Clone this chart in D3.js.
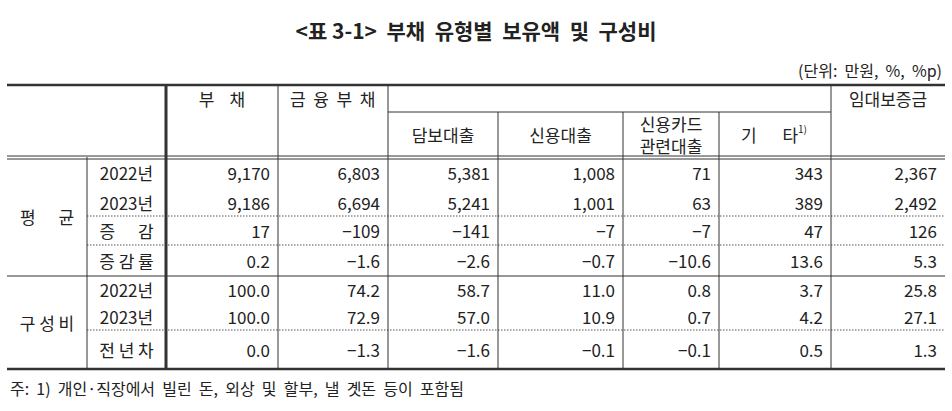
<!DOCTYPE html>
<html><head><meta charset="utf-8">
<script src="https://cdn.jsdelivr.net/npm/d3@7"></script>
<style>body{margin:0;background:#fff}text{font-family:"Noto Sans CJK KR","Noto Sans",sans-serif;fill:#222;white-space:pre}</style>
</head><body><div id="container"></div>
<script>
/** DATA */
const columns = ["부채", "금융부채", "담보대출", "신용대출", "신용카드관련대출", "기타", "임대보증금"];
const groups = ["평      균", "구 성 비"];
const rowLabels = ["2022년", "2023년", "증      감", "증 감 률", "2022년", "2023년", "전 년 차"];
const rowGroup = [0, 0, 0, 0, 1, 1, 1];
const values = [
  ["9,170", "6,803", "5,381", "1,008", "71", "343", "2,367"],
  ["9,186", "6,694", "5,241", "1,001", "63", "389", "2,492"],
  ["17", "−109", "−141", "−7", "−7", "47", "126"],
  ["0.2", "−1.6", "−2.6", "−0.7", "−10.6", "13.6", "5.3"],
  ["100.0", "74.2", "58.7", "11.0", "0.8", "3.7", "25.8"],
  ["100.0", "72.9", "57.0", "10.9", "0.7", "4.2", "27.1"],
  ["0.0", "−1.3", "−1.6", "−0.1", "−0.1", "0.5", "1.3"]
];

/** LAYOUT */
const width = 952, height = 411;
const colEdges = [7, 87, 166, 278, 388, 498, 623, 719, 831, 945];
const rowEdges = [157, 188, 216, 245, 276, 302, 330, 369];

const svg = d3.select("#container").append("svg")
  .attr("width", width).attr("height", height);

const x = d3.scaleOrdinal().domain(d3.range(colEdges.length)).range(colEdges);
const y = d3.scaleOrdinal().domain(d3.range(rowEdges.length)).range(rowEdges);

function line(x1, y1, x2, y2, w = 1, dash = null, color = "#333") {
  svg.append("line").attr("x1", x1).attr("y1", y1).attr("x2", x2).attr("y2", y2)
    .attr("stroke", color).attr("stroke-width", w).attr("stroke-dasharray", dash);
}
function text(t, tx, ty, anchor = "middle", size = 17, weight = 400) {
  return svg.append("text").attr("x", tx).attr("y", ty).attr("text-anchor", anchor)
    .attr("dominant-baseline", "central").attr("font-size", size).attr("font-weight", weight).text(t);
}

// title and unit
text("<표 3-1>  부채  유형별  보유액  및  구성비", width / 2, 30, "middle", 21, 700);
text("(단위:  만원,  %,  %p)", 942, 70, "end", 16);

const left = x(0), right = x(9);
// horizontal rules
line(left, 85, right, 85, 2.5);
line(x(4), 112, x(8), 112);
line(left, 156, right, 156);
line(left, 159, right, 159);
line(left, y(4), right, y(4), 1.2);
[2, 3, 6].forEach(i => line(x(1), y(i), right, y(i), 1, "1.5,1.5", "#555"));
line(left, y(7), right, y(7), 2.5);

// vertical rules
line(x(1), 157, x(1), y(7));
line(x(2), 85, x(2), y(7), 3);
[3, 4, 8].forEach(i => line(x(i), 85, x(i), y(7)));
[5, 6, 7].forEach(i => line(x(i), 112, x(i), y(7)));

// headers
text("부    채", (x(2) + x(3)) / 2, 98);
text("금  융  부  채", x(3) + 12, 98, "start");
text("임대보증금", (x(8) + x(9)) / 2, 98);
text("담보대출", (x(4) + x(5)) / 2, 134);
text("신용대출", (x(5) + x(6)) / 2, 134);
text("신용카드", (x(6) + x(7)) / 2, 123);
text("관련대출", (x(6) + x(7)) / 2, 145);
text("기", x(7) + 22, 134, "start");
const ta = text("타", x(8) - 24, 134, "end");
ta.append("tspan").attr("font-size", 10).attr("dy", -6).text("1)");

// group labels
groups.forEach((g, gi) => {
  const idx = rowGroup.map((r, i) => r === gi ? i : -1).filter(i => i >= 0);
  const y0 = y(idx[0]), y1 = y(idx[idx.length - 1] + 1);
  text(g, (x(0) + x(1)) / 2, (y0 + y1) / 2);
});

// body rows
rowLabels.forEach((lab, r) => {
  const cy = (y(r) + y(r + 1)) / 2;
  text(lab, (x(1) + x(2)) / 2, cy);
  values[r].forEach((v, c) => text(v, x(c + 3) - 8, cy, "end"));
});

text("주:  1)  개인·직장에서  빌린  돈,  외상  및  할부,  낼  곗돈  등이  포함됨", 10, 388, "start", 16);
</script></body></html>
